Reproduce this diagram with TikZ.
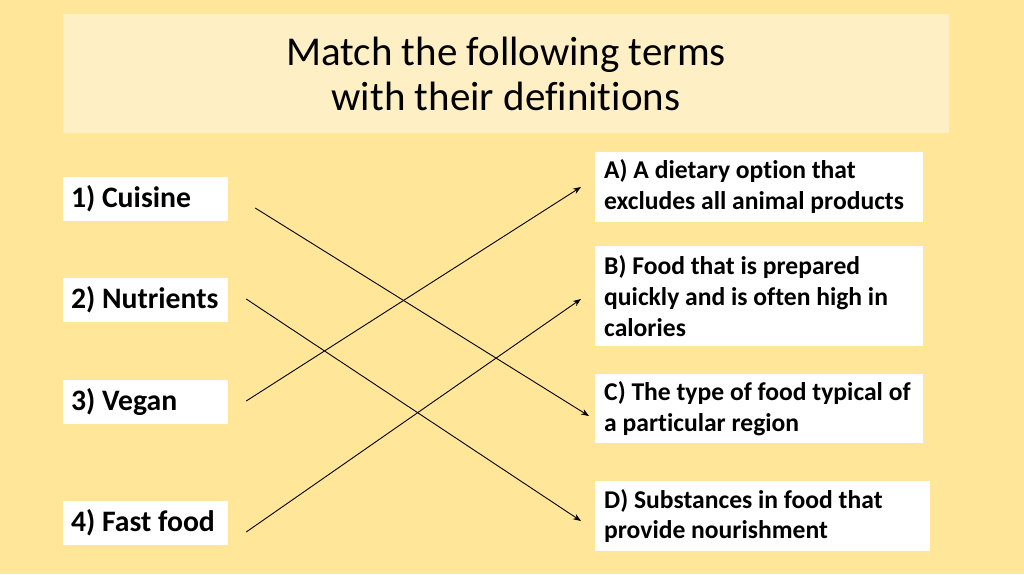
\documentclass[tikz,border=0pt]{standalone}
\usepackage{fontspec}
\setmainfont[Ligatures={NoCommon}]{Carlito}
\usetikzlibrary{arrows.meta}
\definecolor{bgyellow}{HTML}{FFE699}
\definecolor{titlefill}{HTML}{FEF0C4}
\tikzset{
  termbox/.style={fill=white, draw=none, minimum width=165pt, minimum height=44pt,
    text width=149pt, inner xsep=8pt, align=flush left,
    font=\bfseries\frenchspacing\fontsize{29.7}{34}\selectfont},
  defbox/.style={fill=white, draw=none, minimum height=#1, text width=310pt,
    inner xsep=9pt, inner ysep=0pt, align=flush left,
    font=\bfseries\frenchspacing\fontsize{25.6}{31}\selectfont},
  link/.style={draw=black, line width=0.9pt, -{Stealth[length=8pt,width=6pt]}}
}
\begin{document}
\begin{tikzpicture}[x=1pt,y=-1pt]
\fill[bgyellow] (0,0) rectangle (1024,574);
\useasboundingbox (0,0) rectangle (1024,574);
\node[fill=titlefill, minimum width=886pt, minimum height=119pt, inner sep=0pt,
  align=center, font=\fontsize{41}{45}\selectfont] (title) at (506,73.5)
  {Match the following terms\\with their definitions};

\node[termbox] (t1) at (145.5,198.5) {1) Cuisine};
\node[termbox] (t2) at (145.5,300) {2) Nutrients};
\node[termbox] (t3) at (145.5,402) {3) Vegan};
\node[termbox] (t4) at (145.5,522.5) {4) Fast food};

\node[defbox=70pt, anchor=west] (dA) at (595,187) {A) A dietary option that excludes all animal products};
\node[defbox=100pt, anchor=west] (dB) at (595,296) {B) Food that is prepared quickly and is often high in calories};
\node[defbox=69pt, anchor=west] (dC) at (595,408.5) {C) The type of food typical of a particular region};
\node[defbox=70pt, anchor=west, text width=317pt] (dD) at (595,516) {D) Substances in food that provide nourishment};

\coordinate (s1) at ([shift={(27,9.5)}]t1.east);
\coordinate (s2) at ([shift={(18,-1)}]t2.east);
\coordinate (s3) at ([shift={(18,-1)}]t3.east);
\coordinate (s4) at ([shift={(18,9.5)}]t4.east);
\coordinate (eA) at ([shift={(-14,0)}]dA.west);
\coordinate (eB) at ([shift={(-14,3)}]dB.west);
\coordinate (eC) at ([shift={(-6,7.5)}]dC.west);
\coordinate (eD) at ([shift={(-14,5)}]dD.west);

\draw[link] (s1) -- (eC);
\draw[link] (s2) -- (eD);
\draw[link] (s3) -- (eA);
\draw[link] (s4) -- (eB);
\end{tikzpicture}
\end{document}
